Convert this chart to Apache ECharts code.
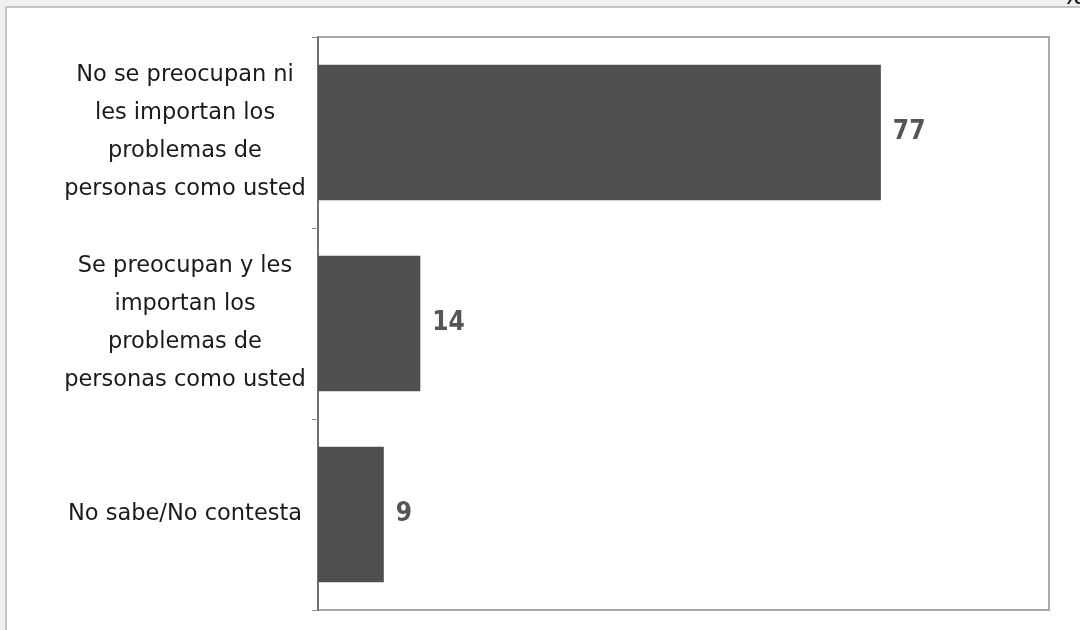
<!DOCTYPE html>
<html>
<head>
<meta charset="utf-8">
<script src="https://cdn.jsdelivr.net/npm/echarts@6/dist/echarts.min.js"></script>
<style>
html,body{margin:0;padding:0;background:#efefef;}
#c{width:1080px;height:630px;}
</style>
</head>
<body>
<div id="c"></div>
<script>
const categories = [
  "No se preocupan ni\nles importan los\nproblemas de\npersonas como usted",
  "Se preocupan y les\nimportan los\nproblemas de\npersonas como usted",
  "No sabe/No contesta"
];
const values = [77, 14, 9];
const axisMax = 100;

const chart = echarts.init(document.getElementById('c'));
chart.setOption({
  backgroundColor: '#efefef',
  animation: false,
  graphic: [
    {type: 'rect', z: -10, shape: {x: 6, y: 7, width: 1100, height: 640},
     style: {fill: '#ffffff', stroke: '#c4c4c4', lineWidth: 2}},
    {type: 'text', left: 1062, top: -13, z: 10,
     style: {text: '%', font: 'bold 22px "DejaVu Sans"', fill: '#222'}}
  ],
  grid: {left: 318, top: 37, right: 31, bottom: 20, show: true,
         borderColor: '#a8a8a8', borderWidth: 2, backgroundColor: 'transparent'},
  xAxis: {type: 'value', min: 0, max: axisMax, show: true,
          axisLine: {show: false}, axisTick: {show: false}, axisLabel: {show: false},
          splitLine: {show: false}},
  yAxis: {type: 'category', inverse: true, data: categories,
          axisLine: {show: true, lineStyle: {color: '#707070', width: 2}},
          axisTick: {show: true, length: 6, lineStyle: {color: '#909090', width: 1}},
          axisLabel: {margin: 133, align: 'center', fontFamily: 'DejaVu Sans',
                      fontSize: 22.5, lineHeight: 38, color: '#1a1a1a'}},
  series: [{
    type: 'bar', data: values, barCategoryGap: '29%',
    itemStyle: {color: '#4f4f4f'},
    label: {show: true, position: 'right', distance: 12,
            fontFamily: 'DejaVu Sans Condensed', fontWeight: 'bold', fontSize: 26, color: '#555555'}
  }]
});
</script>
</body>
</html>
